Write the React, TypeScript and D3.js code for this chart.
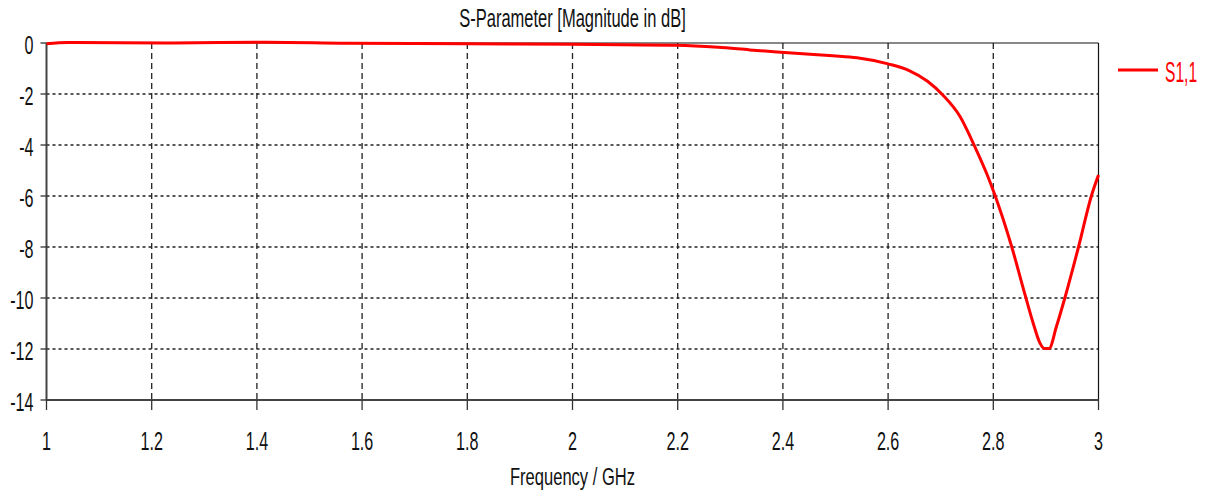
import React from 'react';
import * as d3 from 'd3';

// S1,1 magnitude
const freq = [1.0, 1.04, 1.24, 1.42, 1.57, 1.8, 2.0, 2.2, 2.277, 2.337, 2.389, 2.438, 2.495, 2.541, 2.6, 2.64, 2.675, 2.704, 2.737, 2.765, 2.787, 2.803, 2.835, 2.86, 2.876, 2.889, 2.897, 2.906, 2.92, 2.936, 2.962, 2.987, 3.0];
const s11 = [-0.03, 0.02, 0.0, 0.03, -0.01, -0.03, -0.05, -0.09, -0.17, -0.27, -0.35, -0.42, -0.5, -0.58, -0.82, -1.08, -1.5, -2.04, -2.89, -4.07, -5.1, -5.96, -7.99, -9.85, -11.0, -11.78, -11.98, -11.98, -11.12, -10.0, -8.0, -5.96, -5.18];

const xTicks = [1, 1.2, 1.4, 1.6, 1.8, 2, 2.2, 2.4, 2.6, 2.8, 3];
const yTicks = [0, -2, -4, -6, -8, -10, -12, -14];

const title = 'S-Parameter [Magnitude in dB]';
const xTitle = 'Frequency / GHz';
const seriesName = 'S1,1';

const W = 1210;
const H = 499;
const margin = { left: 46.5, right: 111.5, top: 43, bottom: 99 };
const FONT = '"Liberation Sans", Arial, sans-serif';
const TXT = '#111';
const SQ = 0.62;

export default function App() {
  const x = d3.scaleLinear().domain([1, 3]).range([margin.left, W - margin.right]);
  const y = d3.scaleLinear().domain([-14, 0]).range([H - margin.bottom, margin.top]);
  const pts: [number, number][] = freq.map((f, i) => [f, s11[i]]);
  const line = d3.line<[number, number]>()
    .x(d => x(d[0]))
    .y(d => y(d[1]))
    .curve(d3.curveMonotoneX);

  const x0 = x(1), x1 = x(3), y0 = y(0), y1 = y(-14);

  return (
    <svg width={W} height={H} style={{ position: 'absolute', left: 0, top: 0, background: '#fff' }}>
      <rect x={0} y={0} width={W} height={H} fill="#fff" />

      {/* grid */}
      {xTicks.slice(1, -1).map(t => (
        <line key={'gx' + t} x1={x(t)} x2={x(t)} y1={y0} y2={y1} stroke="#222" strokeWidth={1.3} strokeDasharray="6,4" />
      ))}
      {yTicks.slice(1, -1).map(t => (
        <line key={'gy' + t} x1={x0} x2={x1} y1={y(t)} y2={y(t)} stroke="#222" strokeWidth={1.6} strokeDasharray="3,3" />
      ))}

      {/* frame */}
      <line x1={x0} x2={x1} y1={y0} y2={y0} stroke="#111" strokeWidth={1.2} />
      <line x1={x1} x2={x1} y1={y0} y2={y1} stroke="#111" strokeWidth={1.2} />
      <line x1={x0} x2={x0} y1={y0} y2={y1} stroke="#444" strokeWidth={2} />
      <line x1={x0} x2={x1} y1={y1} y2={y1} stroke="#444" strokeWidth={2} />

      {/* ticks */}
      {xTicks.map(t => (
        <g key={'tx' + t}>
          <line x1={x(t)} x2={x(t)} y1={y1} y2={y1 + 10} stroke="#333" strokeWidth={1.3} />
          <text transform={`translate(${x(t)},${y1 + 50}) scale(${SQ},1)`} textAnchor="middle" fontFamily={FONT} fontSize={26} fill={TXT}>{t}</text>
        </g>
      ))}
      {yTicks.map(t => (
        <g key={'ty' + t}>
          <line x1={x0 - 6} x2={x0} y1={y(t)} y2={y(t)} stroke="#333" strokeWidth={1.3} />
          <text transform={`translate(${x0 - 13},${y(t) + 11}) scale(${SQ},1)`} textAnchor="end" fontFamily={FONT} fontSize={26} fill={TXT}>{t}</text>
        </g>
      ))}

      {/* curve */}
      <path d={line(pts) || ''} fill="none" stroke="#ff0000" strokeWidth={3} strokeLinejoin="round" />

      {/* titles */}
      <text transform={`translate(${(x0 + x1) / 2},27) scale(0.66,1)`} textAnchor="middle" fontFamily={FONT} fontSize={25} fill={TXT}>{title}</text>
      <text transform={`translate(${(x0 + x1) / 2},485) scale(0.69,1)`} textAnchor="middle" fontFamily={FONT} fontSize={24} fill={TXT}>{xTitle}</text>

      {/* legend */}
      <line x1={1118} x2={1158} y1={70} y2={70} stroke="#ff0000" strokeWidth={3} />
      <text transform="translate(1165,82) scale(0.52,1)" fontFamily={FONT} fontSize={30} fill="#ff0000">{seriesName}</text>
    </svg>
  );
}
